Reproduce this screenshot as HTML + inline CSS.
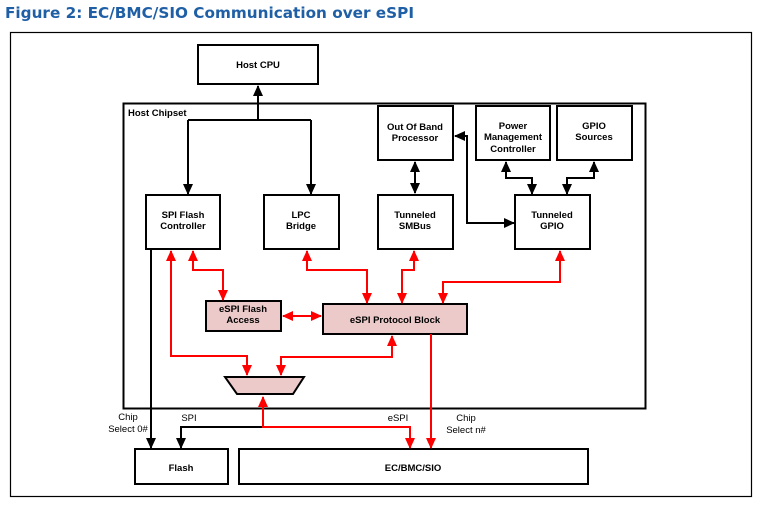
<!DOCTYPE html>
<html><head><meta charset="utf-8"><style>
html,body{margin:0;padding:0;background:#fff;width:758px;height:505px;overflow:hidden}
svg{display:block}
text{font-family:"Liberation Sans",Arial,sans-serif;font-size:9.5px;font-weight:bold;fill:#000;text-anchor:middle}
.n{font-weight:normal}
</style></head><body>
<svg width="758" height="505" viewBox="0 0 758 505" xmlns="http://www.w3.org/2000/svg">
<defs>
<marker id="b" markerWidth="11" markerHeight="11" refX="10" refY="5.5" orient="auto-start-reverse" markerUnits="userSpaceOnUse"><path d="M0,0.5 L11,5.5 L0,10.5 z" fill="#000"/></marker>
<marker id="r" markerWidth="11" markerHeight="11" refX="10" refY="5.5" orient="auto-start-reverse" markerUnits="userSpaceOnUse"><path d="M0,0.5 L11,5.5 L0,10.5 z" fill="#f00"/></marker>
</defs>
<text x="5" y="18" textLength="409" lengthAdjust="spacingAndGlyphs" style="font-family:'DejaVu Sans',sans-serif;font-size:15px;font-weight:bold;fill:#1f5fa5;text-anchor:start">Figure 2: EC/BMC/SIO Communication over eSPI</text>
<rect x="10.5" y="32.5" width="741" height="464" fill="none" stroke="#000" stroke-width="1.2"/>
<rect x="123.5" y="103.5" width="522" height="305" fill="none" stroke="#000" stroke-width="2"/>
<text x="128" y="116" style="text-anchor:start">Host Chipset</text>
<g fill="#fff" stroke="#000" stroke-width="2">
<rect x="198" y="45" width="120" height="39"/>
<rect x="146" y="195" width="74" height="54"/>
<rect x="264" y="195" width="75" height="54"/>
<rect x="378" y="195" width="75" height="54"/>
<rect x="378" y="106" width="75" height="54"/>
<rect x="476" y="106" width="74" height="54"/>
<rect x="557" y="106" width="75" height="54"/>
<rect x="515" y="195" width="75" height="54"/>
<rect x="135" y="449" width="93" height="35"/>
<rect x="239" y="449" width="349" height="35"/>
</g>
<g fill="#edcaca" stroke="#000" stroke-width="2">
<rect x="206" y="301" width="75" height="30"/>
<rect x="323" y="304" width="144" height="30"/>
<path d="M225,377 L304,377 L293,394 L237,394 z"/>
</g>
<text x="258" y="68">Host CPU</text>
<text x="183" y="218">SPI Flash</text><text x="183" y="229">Controller</text>
<text x="301" y="218">LPC</text><text x="301" y="229">Bridge</text>
<text x="415" y="218">Tunneled</text><text x="415" y="229">SMBus</text>
<text x="415" y="130">Out Of Band</text><text x="415" y="141">Processor</text>
<text x="513" y="129">Power</text><text x="513" y="140">Management</text><text x="513" y="152">Controller</text>
<text x="594" y="129">GPIO</text><text x="594" y="140">Sources</text>
<text x="552" y="218">Tunneled</text><text x="552" y="229">GPIO</text>
<text x="243" y="312">eSPI Flash</text><text x="243" y="323">Access</text>
<text x="395" y="323">eSPI Protocol Block</text>
<text x="181" y="471">Flash</text>
<text x="413" y="471">EC/BMC/SIO</text>
<text class="n" x="128" y="420">Chip</text><text class="n" x="128" y="432">Select 0#</text>
<text class="n" x="189" y="421">SPI</text>
<text class="n" x="398" y="421">eSPI</text>
<text class="n" x="466" y="421">Chip</text><text class="n" x="466" y="433">Select n#</text>
<g fill="none" stroke="#000" stroke-width="2">
<path d="M258,120 L258,86" marker-end="url(#b)"/>
<path d="M188,120 L311,120"/>
<path d="M188,120 L188,194" marker-end="url(#b)"/>
<path d="M311,120 L311,194" marker-end="url(#b)"/>
<path d="M415,162 L415,193" marker-start="url(#b)" marker-end="url(#b)"/>
<path d="M455,136 L467,136 L467,223 L514,223" marker-start="url(#b)" marker-end="url(#b)"/>
<path d="M506,162 L506,178 L532,178 L532,194" marker-start="url(#b)" marker-end="url(#b)"/>
<path d="M594,162 L594,178 L567,178 L567,194" marker-start="url(#b)" marker-end="url(#b)"/>
<path d="M151,249 L151,448" marker-end="url(#b)"/>
<path d="M263,427 L181,427 L181,448" marker-end="url(#b)"/>
</g>
<g fill="none" stroke="#f00" stroke-width="2">
<path d="M171,251 L171,356 L247,356 L247,375" marker-start="url(#r)" marker-end="url(#r)"/>
<path d="M193,251 L193,270 L223,270 L223,300" marker-start="url(#r)" marker-end="url(#r)"/>
<path d="M283,316 L321,316" marker-start="url(#r)" marker-end="url(#r)"/>
<path d="M307,251 L307,270 L367,270 L367,303" marker-start="url(#r)" marker-end="url(#r)"/>
<path d="M414,251 L414,270 L402,270 L402,303" marker-start="url(#r)" marker-end="url(#r)"/>
<path d="M560,251 L560,282 L443,282 L443,303" marker-start="url(#r)" marker-end="url(#r)"/>
<path d="M392,336 L392,357 L281,357 L281,375" marker-start="url(#r)" marker-end="url(#r)"/>
<path d="M431,334 L431,448" marker-end="url(#r)"/>
<path d="M263,397 L263,427 L410,427 L410,448" marker-start="url(#r)" marker-end="url(#r)"/>
</g>
</svg>
</body></html>
